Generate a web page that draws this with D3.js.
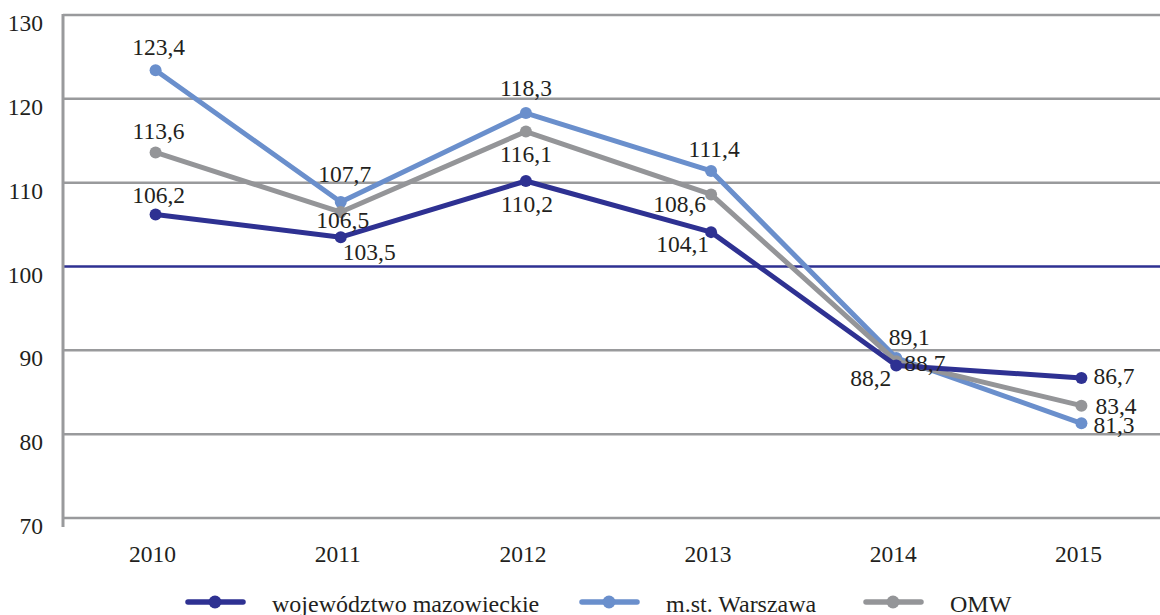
<!DOCTYPE html>
<html>
<head>
<meta charset="utf-8">
<script src="https://cdn.jsdelivr.net/npm/d3@7/dist/d3.min.js"></script>
<style>
  html, body { margin: 0; padding: 0; background: #ffffff; }
  svg { display: block; }
  text { font-family: "Liberation Serif", "Times New Roman", serif; fill: #231f20; }
</style>
</head>
<body>
<svg id="chart" width="1160" height="615"></svg>
<script>
// ---- data ----
const years = ["2010", "2011", "2012", "2013", "2014", "2015"];
const yTicks = [70, 80, 90, 100, 110, 120, 130];
const seriesNames = ["województwo mazowieckie", "m.st. Warszawa", "OMW"];
const wojewodztwo = [106.2, 103.5, 110.2, 104.1, 88.2, 86.7];
const warszawa = [123.4, 107.7, 118.3, 111.4, 89.1, 81.3];
const omw = [113.6, 106.5, 116.1, 108.6, 88.7, 83.4];

// ---- presentation ----
const colors = ["#2e3192", "#6a8fcc", "#949598"];
const fontSize = 23.5;
// label placement per point: [anchor, dx, dy] (dy = offset of text centre from point)
const labelPlace = [
  [["middle", 3, -20], ["start", 2, 15], ["middle", 1, 23], ["end", -2, 12], ["end", -5, 12], ["start", 12, -2]],
  [["middle", 3, -24], ["middle", 4, -28], ["middle", 0, -25], ["middle", 3, -22], ["middle", 13, -21], ["start", 12, 2]],
  [["middle", 3, -22], ["middle", 2, 8], ["middle", 0, 22], ["end", -5, 9], ["start", 8, 2], ["start", 14, 0]]
];

const svg = d3.select("#chart");

const x = d3.scaleBand().domain(years).range([63, 1174]);
const y = d3.scaleLinear().domain([70, 130]).range([518, 15]);
const cx = d => x(d) + x.bandwidth() / 2;

// gridlines
svg.append("g").selectAll("line").data(yTicks).join("line")
  .attr("x1", 63).attr("x2", 1160)
  .attr("y1", d => y(d)).attr("y2", d => y(d))
  .attr("stroke", d => d === 100 ? "#2e3192" : "#999a9c")
  .attr("stroke-width", 2.5);

// left axis line
svg.append("line")
  .attr("x1", 63).attr("x2", 63)
  .attr("y1", y(130) - 1).attr("y2", y(70) + 9)
  .attr("stroke", "#999a9c").attr("stroke-width", 3);

// y tick labels
svg.append("g").selectAll("text").data(yTicks).join("text")
  .attr("x", 43).attr("y", d => y(d) + 16)
  .attr("text-anchor", "end")
  .attr("font-size", fontSize)
  .text(d => d);

// x labels
svg.append("g").selectAll("text").data(years).join("text")
  .attr("x", d => cx(d) - 3).attr("y", 562)
  .attr("text-anchor", "middle")
  .attr("font-size", fontSize)
  .text(d => d);

const allSeries = [wojewodztwo, warszawa, omw];
const line = d3.line().x((d, i) => cx(years[i])).y(d => y(d));

const drawOrder = [1, 2, 0];
drawOrder.forEach(si => {
  const vals = allSeries[si];
  const g = svg.append("g");
  g.append("path").datum(vals)
    .attr("d", line)
    .attr("fill", "none")
    .attr("stroke", colors[si])
    .attr("stroke-width", 5)
    .attr("stroke-linejoin", "round");
  g.selectAll("circle").data(vals).join("circle")
    .attr("cx", (d, i) => cx(years[i]))
    .attr("cy", d => y(d))
    .attr("r", 6)
    .attr("fill", colors[si]);
});

// labels
allSeries.forEach((vals, si) => {
  svg.append("g").selectAll("text").data(vals).join("text")
    .attr("x", (d, i) => cx(years[i]) + labelPlace[si][i][1])
    .attr("y", (d, i) => y(d) + labelPlace[si][i][2])
    .attr("dy", "0.35em")
    .attr("text-anchor", (d, i) => labelPlace[si][i][0])
    .attr("font-size", fontSize)
    .text(d => d3.format(".1f")(d).replace(".", ","));
});

// legend
const legendX = [188, 582, 866];
const legendY = 602;
const lg = svg.append("g");
seriesNames.forEach((name, si) => {
  const lx = legendX[si];
  lg.append("line")
    .attr("x1", lx).attr("x2", lx + 55)
    .attr("y1", legendY).attr("y2", legendY)
    .attr("stroke", colors[si]).attr("stroke-width", 5.5)
    .attr("stroke-linecap", "round");
  lg.append("circle")
    .attr("cx", lx + 27).attr("cy", legendY).attr("r", 6.5)
    .attr("fill", colors[si]);
  lg.append("text")
    .attr("x", lx + 84).attr("y", legendY + 10)
    .attr("font-size", 24)
    .text(name);
});
</script>
</body>
</html>
